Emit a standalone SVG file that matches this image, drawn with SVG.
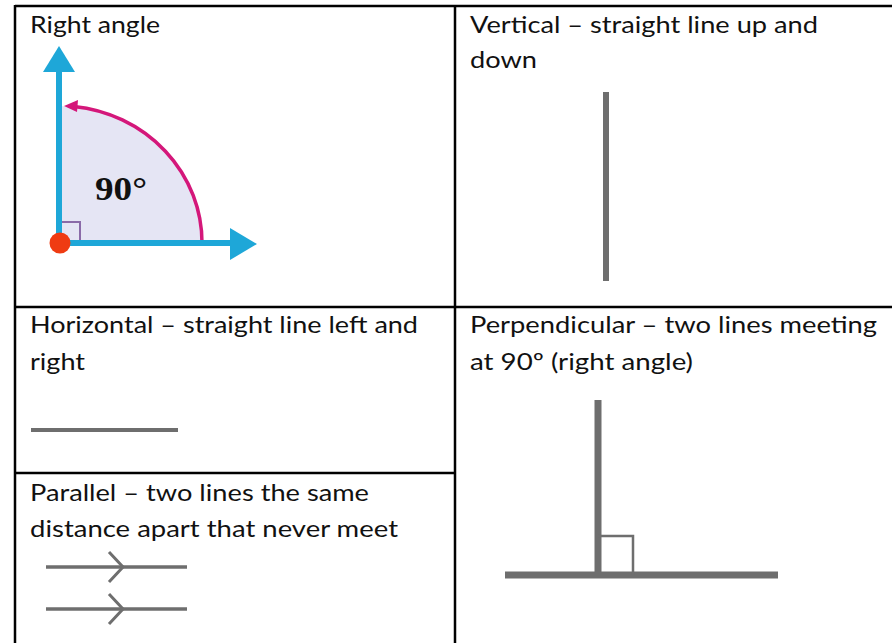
<svg xmlns="http://www.w3.org/2000/svg" width="892" height="643" viewBox="0 0 892 643">
<style>
.t{font-family:Lato,"Liberation Sans",sans-serif;font-size:23.5px;fill:#111}
.b{stroke:#000;stroke-width:2.5;fill:none}
.g{stroke:#6e6e6e;fill:none}
</style>
<rect width="892" height="643" fill="#fff"/>
<g id="table">
<line class="b" x1="15" y1="6" x2="892" y2="6"/>
<line class="b" x1="15" y1="5" x2="15" y2="643"/>
<line class="b" x1="455" y1="5" x2="455" y2="643"/>
<line class="b" x1="15" y1="307" x2="892" y2="307"/>
<line class="b" x1="15" y1="473" x2="455" y2="473"/>
</g>
<g id="right-angle">
<text class="t" x="30" y="33" textLength="130" lengthAdjust="spacingAndGlyphs">Right angle</text>
<path d="M59,243 L202,243 A143,137 0 0 0 59,106 Z" fill="#e5e5f4"/>
<path d="M202,243 A143,137 0 0 0 74,106.5" fill="none" stroke="#d4177a" stroke-width="3.5"/>
<polygon points="64,106 78,100 77,112" fill="#d4177a"/>
<rect x="59" y="222" width="21" height="21" fill="none" stroke="#8a6aa8" stroke-width="2"/>
<line x1="59" y1="70" x2="59" y2="243" stroke="#1ea7d8" stroke-width="6"/>
<line x1="59" y1="243" x2="232" y2="243" stroke="#1ea7d8" stroke-width="6"/>
<polygon points="59,46 43,72 75,72" fill="#1ea7d8"/>
<polygon points="257,244 230,228 230,260" fill="#1ea7d8"/>
<circle cx="60" cy="243" r="10.5" fill="#ef3b12"/>
<text x="95" y="200" font-family="'Liberation Serif',serif" font-weight="bold" font-size="33" fill="#111" textLength="52" lengthAdjust="spacingAndGlyphs">90°</text>
</g>
<g id="vertical">
<text class="t" x="470" y="33" textLength="348" lengthAdjust="spacingAndGlyphs">Vertical – straight line up and</text>
<text class="t" x="470" y="68" textLength="67" lengthAdjust="spacingAndGlyphs">down</text>
<line class="g" x1="606" y1="92" x2="606" y2="281" stroke-width="6"/>
</g>
<g id="horizontal">
<text class="t" x="30" y="333" textLength="388" lengthAdjust="spacingAndGlyphs">Horizontal – straight line left and</text>
<text class="t" x="30" y="370" textLength="55" lengthAdjust="spacingAndGlyphs">right</text>
<line class="g" x1="31" y1="430" x2="178" y2="430" stroke-width="4"/>
</g>
<g id="parallel">
<text class="t" x="30" y="501" textLength="339" lengthAdjust="spacingAndGlyphs">Parallel – two lines the same</text>
<text class="t" x="30" y="537" textLength="368" lengthAdjust="spacingAndGlyphs">distance apart that never meet</text>
<line class="g" x1="46" y1="567" x2="187" y2="567" stroke-width="3.5"/>
<line class="g" x1="46" y1="609" x2="187" y2="609" stroke-width="3.5"/>
<polyline class="g" points="109,552 123,567 109,582" stroke-width="3"/>
<polyline class="g" points="109,594 123,609 109,624" stroke-width="3"/>
</g>
<g id="perpendicular">
<text class="t" x="470" y="333" textLength="407" lengthAdjust="spacingAndGlyphs">Perpendicular – two lines meeting</text>
<text class="t" x="470" y="370" textLength="223" lengthAdjust="spacingAndGlyphs">at 90º (right angle)</text>
<line class="g" x1="598" y1="400" x2="598" y2="575" stroke-width="7"/>
<line class="g" x1="505" y1="575" x2="778" y2="575" stroke-width="7"/>
<polyline class="g" points="598,536 633,536 633,575" stroke-width="2.5"/>
</g>
</svg>
